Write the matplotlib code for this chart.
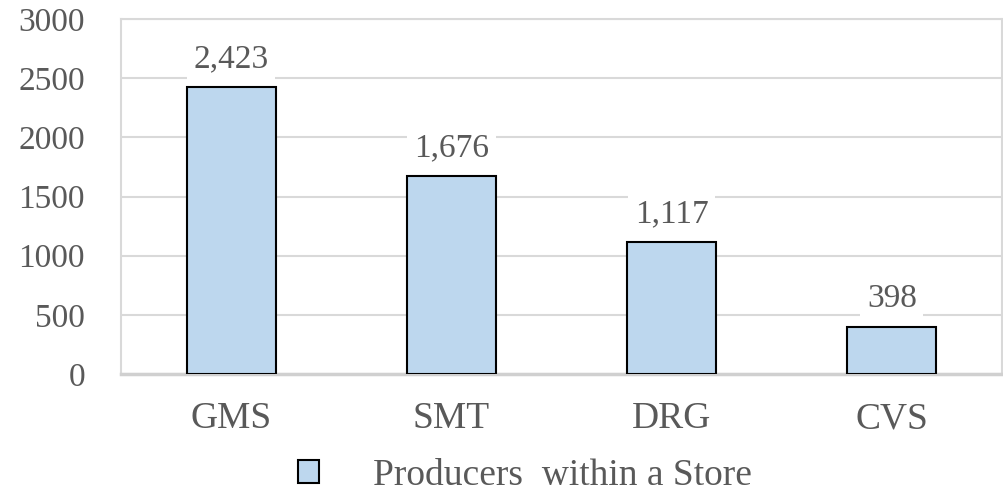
import matplotlib
matplotlib.use("Agg")
import matplotlib.pyplot as plt
from matplotlib.patches import Patch

categories = ["GMS", "SMT", "DRG", "CVS"]
values = [2423, 1676, 1117, 398]
value_labels = ["2,423", "1,676", "1,117", "398"]
y_ticks = [0, 500, 1000, 1500, 2000, 2500, 3000]
series_name = "Producers  within a Store"

plt.rcParams["font.family"] = ["Liberation Serif", "DejaVu Serif"]
text_color = "#595959"
grid_color = "#d9d9d9"

fig = plt.figure(figsize=(10.04, 4.91), dpi=100)
ax = fig.add_axes([121 / 1004, 1 - 374 / 491, 881 / 1004, 355 / 491])

x = list(range(len(categories)))
ax.bar(x, values, width=0.405, color="#BDD7EE", edgecolor="black",
       linewidth=1.5, zorder=3)

ax.set_xlim(-0.5, len(categories) - 0.5)
ax.set_ylim(0, 3000)
ax.set_yticks(y_ticks)
ax.set_yticklabels([str(t) for t in y_ticks])
ax.set_xticks(x)
ax.set_xticklabels(categories)
ax.tick_params(axis="both", length=0, colors=text_color)
ax.tick_params(axis="y", pad=26, labelsize=24)
ax.tick_params(axis="x", pad=20, labelsize=27)
for lbl in ax.get_yticklabels():
    lbl.set_horizontalalignment("right")

ax.grid(axis="y", color=grid_color, linewidth=1.5, zorder=0)
for side in ["left", "top", "right"]:
    ax.spines[side].set_color(grid_color)
    ax.spines[side].set_linewidth(1.5)
ax.spines["bottom"].set_color("#d0d0d0")
ax.spines["bottom"].set_linewidth(2.5)

for xi, v, lab in zip(x, values, value_labels):
    ax.annotate(lab, (xi, v), xytext=(0, 9), textcoords="offset points",
                ha="center", va="bottom", fontsize=24, color=text_color,
                zorder=4,
                bbox=dict(boxstyle="square,pad=0.2", facecolor="white",
                          edgecolor="none"))

handle = Patch(facecolor="#BDD7EE", edgecolor="black", linewidth=1.5)
fig.legend([handle], [series_name], loc="center", bbox_to_anchor=(0.523, 0.031),
           frameon=False, fontsize=27, labelcolor=text_color,
           handlelength=0.55, handleheight=0.55, handletextpad=1.45)

fig.savefig("out.png", dpi=100)
